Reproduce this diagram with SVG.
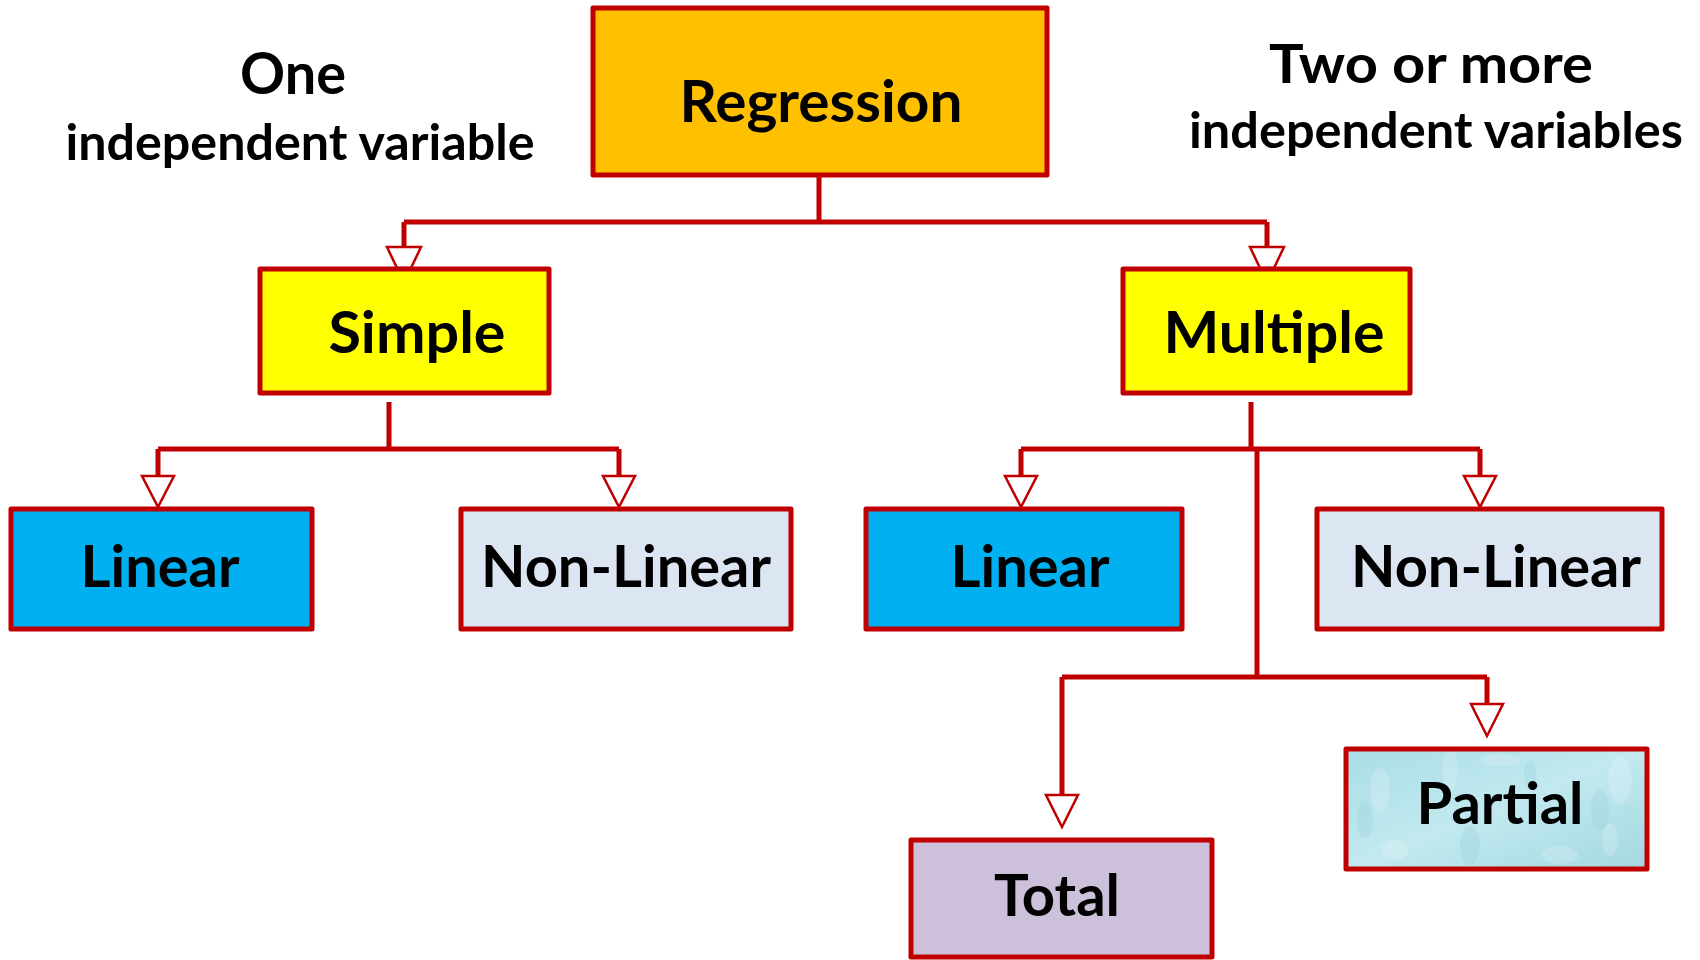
<svg xmlns="http://www.w3.org/2000/svg" width="1700" height="960" viewBox="0 0 1700 960">
<style>
.box{stroke:#c00000;stroke-width:5;stroke-linejoin:round}
.lbl{font-family:Lato,"Open Sans","Liberation Sans",sans-serif;font-weight:bold;font-size:57px;fill:#000;text-anchor:middle}
.hdr{font-family:Lato,"Open Sans","Liberation Sans",sans-serif;font-weight:bold;fill:#000}
.con{fill:none;stroke:#c00000;stroke-width:5}
.ah{fill:#fff;stroke:#c00000;stroke-width:2.5;stroke-linejoin:miter}
</style>
<defs>
<linearGradient id="water" x1="0" y1="0" x2="1" y2="1">
<stop offset="0" stop-color="#a9dde6"/>
<stop offset="0.5" stop-color="#c2e9ef"/>
<stop offset="1" stop-color="#a3d8e1"/>
</linearGradient>
<clipPath id="pclip"><rect x="1346" y="749" width="301" height="120"/></clipPath>
</defs>
<rect width="1700" height="960" fill="#fff"/>

<g id="connectors">
<path class="con" d="M819,175 V222 M404,222 H1267 M404,222 V247 M1267,222 V247"/>
<path class="con" d="M389,402 V449 M158,449 H619 M158,449 V476 M619,449 V476"/>
<path class="con" d="M1251,402 V449 M1021,449 H1480 M1021,449 V476 M1480,449 V476"/>
<path class="con" d="M1257,449 V677 M1062,677 H1487 M1062,677 V795 M1487,677 V704"/>
<polygon class="ah" points="387,247 421,247 411,268 397,268"/>
<polygon class="ah" points="1250,247 1284,247 1274,268 1260,268"/>
<polygon class="ah" points="142,476 174,476 158,507"/>
<polygon class="ah" points="603,476 635,476 619,507"/>
<polygon class="ah" points="1005,476 1037,476 1021,507"/>
<polygon class="ah" points="1464,476 1496,476 1480,507"/>
<polygon class="ah" points="1046,795 1078,795 1062,827"/>
<polygon class="ah" points="1471,704 1503,704 1487,736"/>
</g>

<g id="header-left">
<text class="hdr" x="293" y="94" font-size="57" text-anchor="middle" textLength="106" lengthAdjust="spacingAndGlyphs">One</text>
<text class="hdr" x="300" y="160" font-size="50" text-anchor="middle" textLength="469" lengthAdjust="spacingAndGlyphs">independent variable</text>
</g>
<g id="header-right">
<text class="hdr" x="1431" y="83" font-size="54" text-anchor="middle" textLength="324" lengthAdjust="spacingAndGlyphs">Two or more</text>
<text class="hdr" x="1436" y="148" font-size="49.5" text-anchor="middle" textLength="494" lengthAdjust="spacingAndGlyphs">independent variables</text>
</g>

<g id="regression">
<rect class="box" x="593" y="8" width="454" height="167" fill="#ffc000"/>
<text class="lbl" x="821" y="122" textLength="283" lengthAdjust="spacingAndGlyphs">Regression</text>
</g>
<g id="simple">
<rect class="box" x="260" y="269" width="289" height="124" fill="#ffff00"/>
<text class="lbl" x="417" y="353" textLength="177" lengthAdjust="spacingAndGlyphs">Simple</text>
</g>
<g id="multiple">
<rect class="box" x="1123" y="269" width="287" height="124" fill="#ffff00"/>
<text class="lbl" x="1274" y="353" textLength="221" lengthAdjust="spacingAndGlyphs">Multiple</text>
</g>
<g id="simple-linear">
<rect class="box" x="11" y="509" width="301" height="120" fill="#00b0f0"/>
<text class="lbl" x="160" y="587" textLength="159" lengthAdjust="spacingAndGlyphs">Linear</text>
</g>
<g id="simple-nonlinear">
<rect class="box" x="461" y="509" width="330" height="120" fill="#dce6f2"/>
<text class="lbl" x="626" y="587" textLength="290" lengthAdjust="spacingAndGlyphs">Non-Linear</text>
</g>
<g id="multiple-linear">
<rect class="box" x="866" y="509" width="316" height="120" fill="#00b0f0"/>
<text class="lbl" x="1030" y="587" textLength="159" lengthAdjust="spacingAndGlyphs">Linear</text>
</g>
<g id="multiple-nonlinear">
<rect class="box" x="1317" y="509" width="345" height="120" fill="#dce6f2"/>
<text class="lbl" x="1496" y="587" textLength="290" lengthAdjust="spacingAndGlyphs">Non-Linear</text>
</g>
<g id="total">
<rect class="box" x="911" y="840" width="301" height="117" fill="#ccc0da"/>
<text class="lbl" x="1057" y="916" textLength="126" lengthAdjust="spacingAndGlyphs">Total</text>
</g>
<g id="partial">
<rect x="1346" y="749" width="301" height="120" fill="url(#water)"/>
<g clip-path="url(#pclip)" fill="#ffffff" opacity="0.18">
<ellipse cx="1380" cy="790" rx="10" ry="22"/>
<ellipse cx="1450" cy="770" rx="8" ry="20"/>
<ellipse cx="1620" cy="780" rx="12" ry="24"/>
<ellipse cx="1395" cy="850" rx="14" ry="10"/>
<ellipse cx="1560" cy="855" rx="18" ry="9"/>
<ellipse cx="1610" cy="840" rx="8" ry="16"/>
<ellipse cx="1500" cy="760" rx="20" ry="6"/>
</g>
<g clip-path="url(#pclip)" fill="#7fc3cf" opacity="0.18">
<ellipse cx="1365" cy="820" rx="8" ry="18"/>
<ellipse cx="1470" cy="845" rx="10" ry="20"/>
<ellipse cx="1600" cy="810" rx="9" ry="20"/>
<ellipse cx="1530" cy="775" rx="6" ry="14"/>
</g>
<rect class="box" x="1346" y="749" width="301" height="120" fill="none"/>
<text class="lbl" x="1500" y="824" textLength="167" lengthAdjust="spacingAndGlyphs">Partial</text>
</g>
</svg>
